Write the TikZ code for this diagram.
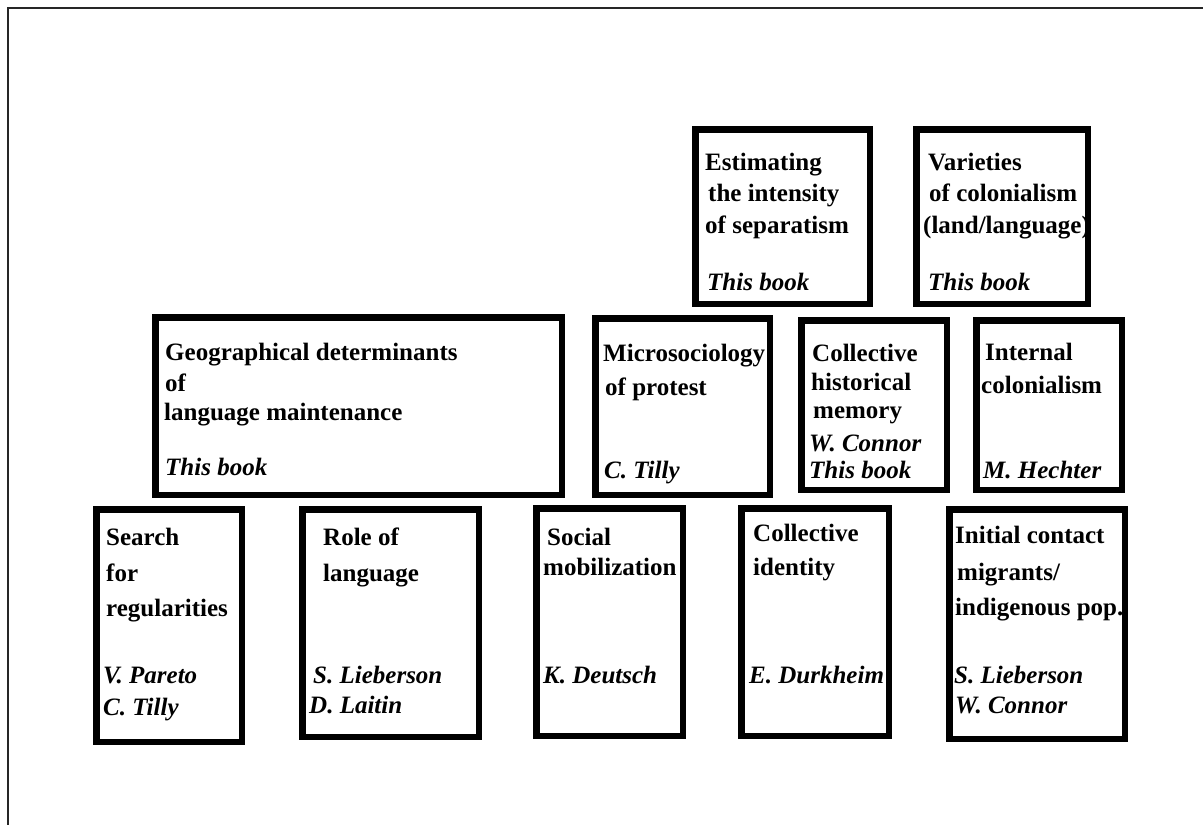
\documentclass[tikz,border=0pt]{standalone}
\usepackage{fontspec}
\setmainfont{Liberation Serif}
\begin{document}
\begin{tikzpicture}[x=1pt,y=-1pt,
  frame/.style={line width=1.5pt,draw=black!85},
  box/.style={draw=black,line width=6.5pt,inner sep=0pt,outer sep=0pt},
  ttl/.style={anchor=base west,inner sep=0pt,font=\fontsize{25}{30}\selectfont\bfseries},
  aut/.style={anchor=base west,inner sep=0pt,font=\fontsize{25}{30}\selectfont\bfseries\itshape}]
\useasboundingbox (0,0) rectangle (1203,825);
% outer frame (top and left)
\coordinate (fa) at (1203,8);
\coordinate (fb) at (8,8);
\coordinate (fc) at (8,825);
\draw[frame] (fa) -- (fb) -- (fc);
% boxes: outer edges -> centre and size
\newcommand{\mkbox}[5]{%
  \node[box,minimum width={#4-#2-6.5pt},minimum height={#5-#3-6.5pt}] (#1) at ({(#2+#4)/2},{(#3+#5)/2}) {};}
\mkbox{est}{692}{126}{873}{307}
\mkbox{var}{913}{126}{1091}{307}
\mkbox{geo}{152}{314}{565}{498}
\mkbox{mic}{592}{315}{773}{498}
\mkbox{chm}{798}{317}{950}{493}
\mkbox{int}{973}{317}{1125}{493}
\mkbox{sea}{93}{506}{245}{745}
\mkbox{rol}{299}{506}{482}{740}
\mkbox{soc}{533}{505}{686}{739}
\mkbox{cid}{738}{505}{892}{739}
\mkbox{ini}{946}{506}{1128}{742}
% top row
\node[ttl] (est1) at (705,170) {Estimating};
\node[ttl] (est2) at (708,201) {the intensity};
\node[ttl] (est3) at (705,233) {of separatism};
\node[aut] (est4) at (707,290) {This book};
\node[ttl] (var1) at (928,170) {Varieties};
\node[ttl] (var2) at (929,201) {of colonialism};
\node[ttl] (var3) at (923,233) {(land/language)};
\node[aut] (var4) at (928,290) {This book};
% middle row
\node[ttl] (geo1) at (165,360) {Geographical determinants};
\node[ttl] (geo2) at (165,391) {of};
\node[ttl] (geo3) at (164,420) {language maintenance};
\node[aut] (geo4) at (165,475) {This book};
\node[ttl] (mic1) at (603,361) {Microsociology};
\node[ttl] (mic2) at (605,395) {of protest};
\node[aut] (mic3) at (604,478) {C. Tilly};
\node[ttl] (chm1) at (812,361) {Collective};
\node[ttl] (chm2) at (811,390) {historical};
\node[ttl] (chm3) at (813,418) {memory};
\node[aut] (chm4) at (809,451) {W. Connor};
\node[aut] (chm5) at (809,478) {This book};
\node[ttl] (int1) at (985,360) {Internal};
\node[ttl] (int2) at (981,393) {colonialism};
\node[aut] (int3) at (983,478) {M. Hechter};
% bottom row
\node[ttl] (sea1) at (106,545) {Search};
\node[ttl] (sea2) at (106,581) {for};
\node[ttl] (sea3) at (106,616) {regularities};
\node[aut] (sea4) at (103,683) {V. Pareto};
\node[aut] (sea5) at (103,715) {C. Tilly};
\node[ttl] (rol1) at (323,545) {Role of};
\node[ttl] (rol2) at (323,581) {language};
\node[aut] (rol3) at (313,683) {S. Lieberson};
\node[aut] (rol4) at (309,713) {D. Laitin};
\node[ttl] (soc1) at (547,545) {Social};
\node[ttl] (soc2) at (543,575) {mobilization};
\node[aut] (soc3) at (543,683) {K. Deutsch};
\node[ttl] (cid1) at (753,541) {Collective};
\node[ttl] (cid2) at (753,575) {identity};
\node[aut] (cid3) at (749,683) {E. Durkheim};
\node[ttl] (ini1) at (955,543) {Initial contact};
\node[ttl] (ini2) at (957,580) {migrants/};
\node[ttl] (ini3) at (955,615) {indigenous pop.};
\node[aut] (ini4) at (954,683) {S. Lieberson};
\node[aut] (ini5) at (955,713) {W. Connor};
\end{tikzpicture}
\end{document}
